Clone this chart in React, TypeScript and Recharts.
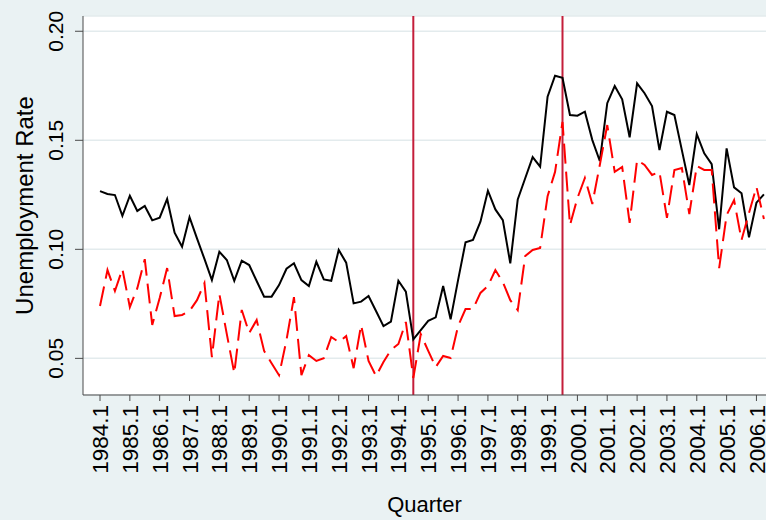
import { LineChart, Line, XAxis, YAxis, CartesianGrid, ReferenceLine } from "recharts";

// quarterly unemployment rate, 1984.1 onwards (one value per quarter)
const solidRate = [
  0.1267, 0.1254, 0.1249, 0.1154, 0.1246, 0.1176, 0.1199, 0.1133, 0.1145, 0.1231,
  0.1076, 0.1012, 0.1147, 0.105, 0.0956, 0.0859, 0.0989, 0.0951, 0.0856, 0.0948,
  0.0928, 0.0855, 0.0783, 0.0783, 0.0836, 0.0911, 0.0936, 0.0859, 0.0832, 0.0943,
  0.0862, 0.0856, 0.0997, 0.0939, 0.0752, 0.076, 0.0786, 0.0717, 0.0648, 0.0668,
  0.0856, 0.0806, 0.0587, 0.063, 0.0672, 0.0688, 0.0832, 0.0679, 0.0859, 0.1032,
  0.1043, 0.1127, 0.1269, 0.1183, 0.1134, 0.0936, 0.1229, 0.1326, 0.1423, 0.1379,
  0.17, 0.1796, 0.1787, 0.1616, 0.1613, 0.1631, 0.1501, 0.1405, 0.167, 0.1749,
  0.1688, 0.1514, 0.1761, 0.1716, 0.1657, 0.1455, 0.1631, 0.1616, 0.1455, 0.1295,
  0.1528, 0.144, 0.1391, 0.1092, 0.1463, 0.1284, 0.1257, 0.1055, 0.1214, 0.1252,
];

const dashedRate = [
  0.074, 0.0905, 0.0809, 0.091, 0.0735, 0.0822, 0.0955, 0.0653, 0.0777, 0.0914,
  0.0694, 0.0699, 0.0717, 0.0767, 0.0845, 0.0506, 0.0795, 0.0611, 0.0432, 0.0722,
  0.0616, 0.0676, 0.0534, 0.0478, 0.0423, 0.0584, 0.0781, 0.0423, 0.0515, 0.0488,
  0.0501, 0.0598, 0.0575, 0.0602, 0.0455, 0.0653, 0.0488, 0.0419, 0.0483, 0.0538,
  0.0566, 0.0667, 0.041, 0.0611, 0.0534, 0.046, 0.0511, 0.0502, 0.0648, 0.0726,
  0.0726, 0.08, 0.0832, 0.0905, 0.085, 0.0767, 0.0721, 0.0969, 0.0997, 0.1006,
  0.1244, 0.1355, 0.1584, 0.1111, 0.1235, 0.1327, 0.1208, 0.1387, 0.157, 0.1355,
  0.1378, 0.1121, 0.141, 0.1387, 0.1341, 0.1355, 0.1144, 0.1364, 0.1373, 0.1162,
  0.1382, 0.1364, 0.1364, 0.0914, 0.1157, 0.1226, 0.1043, 0.1167, 0.1286, 0.1139,
];

const yearLabels = [
  "1984.1", "1985.1", "1986.1", "1987.1", "1988.1", "1989.1", "1990.1", "1991.1",
  "1992.1", "1993.1", "1994.1", "1995.1", "1996.1", "1997.1", "1998.1", "1999.1",
  "2000.1", "2001.1", "2002.1", "2003.1", "2004.1", "2005.1", "2006.1",
];

const rateTicks = [0.05, 0.1, 0.15, 0.2];

// quarters (index from 1984.1) where the vertical markers sit: 1994.3 and 1999.3
const breakQuarters = [42, 62];

const data = solidRate.map((v, i) => ({ q: i, solid: v, dashed: dashedRate[i] }));
const xTicks = yearLabels.map((_, i) => i * 4);

const FONT = "'Liberation Sans', Arial, sans-serif";

function XTick(props: any) {
  const { x, y, payload } = props;
  const label = yearLabels[payload.value / 4];
  return (
    <text
      x={x}
      y={y}
      dy="0.36em"
      transform={`rotate(-90, ${x}, ${y})`}
      textAnchor="end"
      fontSize={22.5}
      fontFamily={FONT}
      fill="#000"
    >
      {label}
    </text>
  );
}

function YTick(props: any) {
  const { x, y, payload } = props;
  return (
    <text
      x={x}
      y={y}
      transform={`rotate(-90, ${x}, ${y})`}
      textAnchor="middle"
      fontSize={21}
      fontFamily={FONT}
      fill="#000"
    >
      {payload.value.toFixed(2)}
    </text>
  );
}

function YTitle(props: any) {
  const { viewBox } = props;
  const x = viewBox.x + 33;
  const y = viewBox.y + viewBox.height / 2;
  return (
    <text
      x={x}
      y={y}
      transform={`rotate(-90, ${x}, ${y})`}
      textAnchor="middle"
      fontSize={24}
      fontFamily={FONT}
      fill="#000"
    >
      Unemployment Rate
    </text>
  );
}

function XTitle(props: any) {
  const { viewBox } = props;
  return (
    <text
      x={viewBox.x + viewBox.width / 2}
      y={viewBox.y + viewBox.height - 8}
      textAnchor="middle"
      fontSize={22}
      fontFamily={FONT}
      fill="#000"
    >
      Quarter
    </text>
  );
}

export default function App() {
  return (
    <div style={{ position: "absolute", left: 0, top: 0, width: 766, height: 520, background: "#eaf2f3" }}>
      <LineChart width={766} height={520} data={data} margin={{ top: 16, right: 0, bottom: 0, left: 0 }}>
        <CartesianGrid vertical={false} fill="#ffffff" stroke="#e3ebed" strokeWidth={1.5} />
        <XAxis
          dataKey="q"
          type="number"
          domain={[-2.28, 89.28]}
          allowDataOverflow
          ticks={xTicks}
          interval={0}
          height={125}
          tickSize={6}
          tickMargin={4}
          tick={<XTick />}
          axisLine={{ stroke: "#4a4a4a" }}
          tickLine={{ stroke: "#4a4a4a" }}
          label={<XTitle />}
        />
        <YAxis
          type="number"
          domain={[0.0332, 0.207]}
          allowDataOverflow
          ticks={rateTicks}
          width={83}
          tickSize={8}
          tickMargin={12}
          tick={<YTick />}
          axisLine={{ stroke: "#4a4a4a" }}
          tickLine={{ stroke: "#4a4a4a" }}
          label={<YTitle />}
        />
        {breakQuarters.map((q) => (
          <ReferenceLine key={q} x={q} stroke="#c41e3a" strokeWidth={2} />
        ))}
        <Line
          type="linear"
          dataKey="solid"
          stroke="#000000"
          strokeWidth={2}
          dot={false}
          isAnimationActive={false}
        />
        <Line
          type="linear"
          dataKey="dashed"
          stroke="#ff0000"
          strokeWidth={2}
          strokeDasharray="20 8"
          dot={false}
          isAnimationActive={false}
        />
      </LineChart>
    </div>
  );
}
